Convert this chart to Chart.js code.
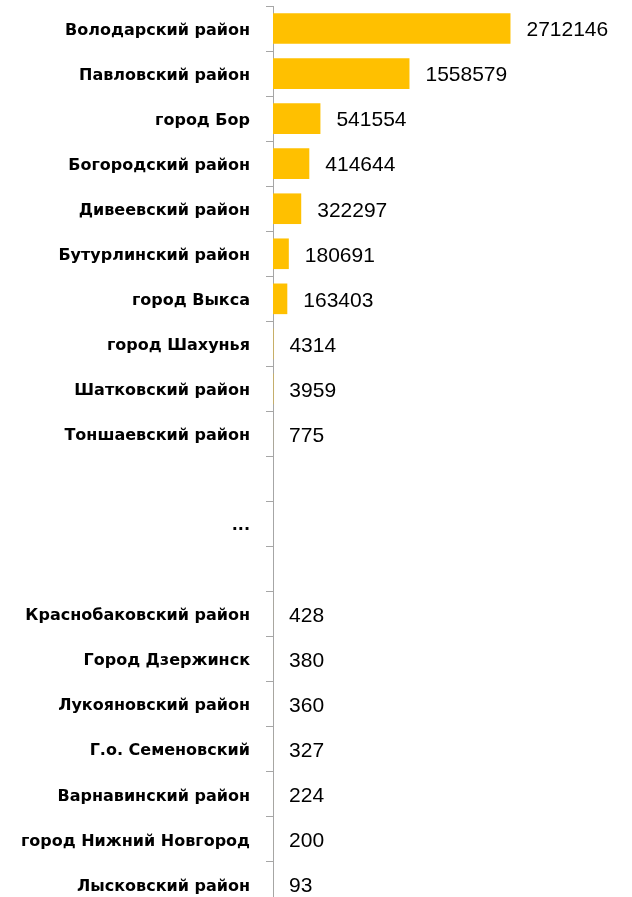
<!DOCTYPE html>
<html>
<head>
<meta charset="utf-8">
<script src="https://cdn.jsdelivr.net/npm/chart.js@4/dist/chart.umd.min.js"></script>
<style>
  html, body { margin: 0; padding: 0; background: #fff; overflow: hidden; }
  #wrap { position: relative; width: 632px; height: 907px; }
</style>
</head>
<body>
<div id="wrap"><canvas id="chart"></canvas></div>
<script>
// Районы (сверху вниз), пустые строки — разрыв с "..."
var districts = [
    'Володарский район', 'Павловский район', 'город Бор', 'Богородский район',
    'Дивеевский район', 'Бутурлинский район', 'город Выкса', 'город Шахунья',
    'Шатковский район', 'Тоншаевский район', '', '...', '',
    'Краснобаковский район', 'Город Дзержинск', 'Лукояновский район',
    'Г.о. Семеновский', 'Варнавинский район', 'город Нижний Новгород', 'Лысковский район'
];
var amounts = [
    2712146, 1558579, 541554, 414644, 322297, 180691, 163403, 4314, 3959, 775,
    null, null, null,
    428, 380, 360, 327, 224, 200, 93
];

// Подписи значений справа от столбцов
var valueLabels = {
    id: 'valueLabels',
    afterDatasetsDraw: function(chart) {
        var ctx = chart.ctx;
        var meta = chart.getDatasetMeta(0);
        ctx.save();
        ctx.font = '21px "Liberation Sans", Arial, sans-serif';
        ctx.fillStyle = '#000';
        ctx.textAlign = 'left';
        ctx.textBaseline = 'middle';
        meta.data.forEach(function(bar, i) {
            var v = amounts[i];
            if (v === null) return;
            ctx.fillText(String(v), bar.x + 16, bar.y + 2);
        });
        ctx.restore();
    }
};

new Chart(document.getElementById('chart'), {
    type: 'bar',
    data: {
        labels: districts,
        datasets: [{
            data: amounts,
            backgroundColor: '#FFC000',
            borderWidth: 0,
            barPercentage: 0.68,
            categoryPercentage: 1
        }]
    },
    options: {
        indexAxis: 'y',
        responsive: true,
        maintainAspectRatio: false,
        animation: false,
        layout: { padding: { top: 6, right: 0, bottom: 0, left: 0 } },
        plugins: {
            legend: { display: false },
            tooltip: { enabled: false }
        },
        scales: {
            x: {
                display: false,
                min: 0,
                max: 4100000
            },
            y: {
                afterFit: function(s) {
                    s.width = 273;
                    s.paddingTop = 0;
                    s.paddingBottom = 0;
                },
                border: { display: true, color: '#A6A6A6', width: 1 },
                grid: {
                    drawOnChartArea: false,
                    drawTicks: true,
                    tickLength: 7,
                    color: '#A6A6A6',
                    offset: true
                },
                ticks: {
                    padding: 16,
                    labelOffset: 2,
                    color: '#000',
                    autoSkip: false,
                    font: { family: '"DejaVu Sans", sans-serif', size: 16, weight: 'bold' }
                }
            }
        }
    },
    plugins: [valueLabels]
});
</script>
</body>
</html>
